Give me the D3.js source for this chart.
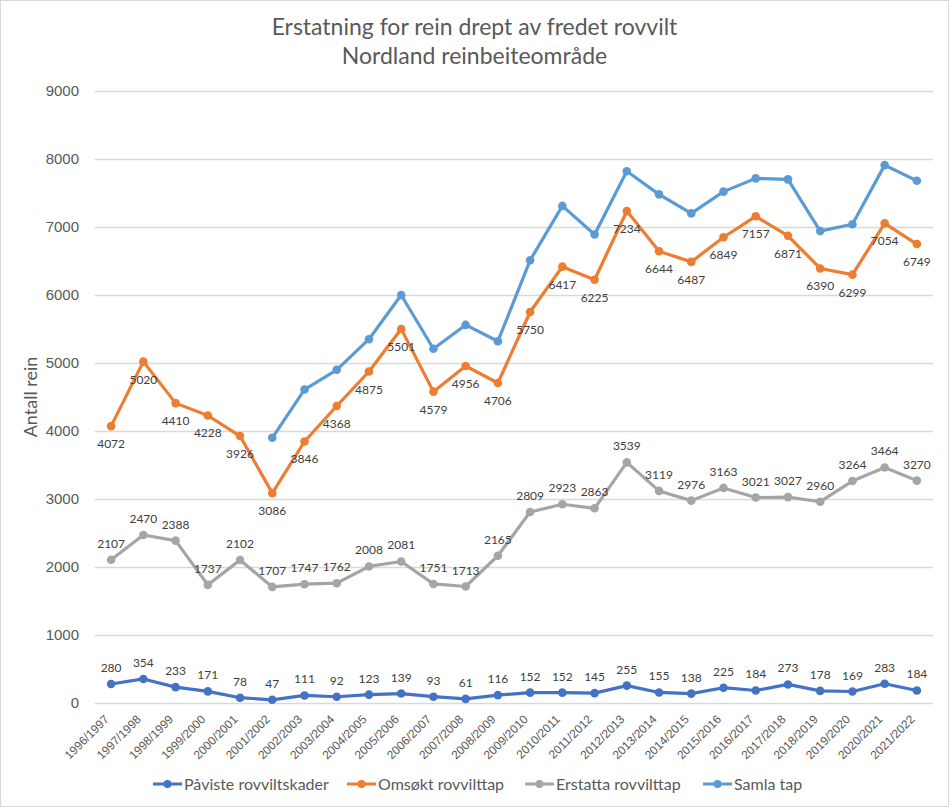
<!DOCTYPE html>
<html>
<head>
<meta charset="utf-8">
<script src="https://cdn.jsdelivr.net/npm/d3@7"></script>
<style>
	body { margin: 0; background: #fff; }
	svg { font-family: Lato, "Open Sans", sans-serif; }
	.title { font-size: 23px; fill: #595959; }
	.tick text { fill: #595959; }
	.lbl { font-size: 12px; fill: #404040; }
</style>
</head>
<body>
<svg id="chart" width="949" height="807" viewBox="0 0 949 807"></svg>
<script>
const seasons = [
	"1996/1997", "1997/1998", "1998/1999", "1999/2000", "2000/2001", "2001/2002",
	"2002/2003", "2003/2004", "2004/2005", "2005/2006", "2006/2007", "2007/2008",
	"2008/2009", "2009/2010", "2010/2011", "2011/2012", "2012/2013", "2013/2014",
	"2014/2015", "2015/2016", "2016/2017", "2017/2018", "2018/2019", "2019/2020",
	"2020/2021", "2021/2022"
];
const pavisteValues = [280, 354, 233, 171, 78, 47, 111, 92, 123, 139, 93, 61, 116, 152, 152, 145, 255, 155, 138, 225, 184, 273, 178, 169, 283, 184];
const omsoktValues = [4072, 5020, 4410, 4228, 3926, 3086, 3846, 4368, 4875, 5501, 4579, 4956, 4706, 5750, 6417, 6225, 7234, 6644, 6487, 6849, 7157, 6871, 6390, 6299, 7054, 6749];
const erstattaValues = [2107, 2470, 2388, 1737, 2102, 1707, 1747, 1762, 2008, 2081, 1751, 1713, 2165, 2809, 2923, 2863, 3539, 3119, 2976, 3163, 3021, 3027, 2960, 3264, 3464, 3270];
// no value before 2001/2002
const samlaValues = [null, null, null, null, null, 3900, 4610, 4900, 5350, 6000, 5210, 5560, 5320, 6510, 7310, 6890, 7820, 7480, 7200, 7520, 7715, 7700, 6940, 7040, 7910, 7680];
const yTicks = [0, 1000, 2000, 3000, 4000, 5000, 6000, 7000, 8000, 9000];

const series = [
	{ name: "Påviste rovviltskader", values: pavisteValues, color: "#4472C4", labels: "above" },
	{ name: "Omsøkt rovvilttap", values: omsoktValues, color: "#ED7D31", labels: "below" },
	{ name: "Erstatta rovvilttap", values: erstattaValues, color: "#A5A5A5", labels: "above" },
	{ name: "Samla tap", values: samlaValues, color: "#5B9BD5", labels: null }
];

const svg = d3.select("#chart");
const W = 949, H = 807;
const plot = { left: 95, right: 933, top: 91, bottom: 703 };

svg.append("rect")
	.attr("x", 0.5).attr("y", 0.5)
	.attr("width", W - 1).attr("height", H - 1)
	.attr("fill", "#fff").attr("stroke", "#D9D9D9");

// title
const title = svg.append("text").attr("class", "title").attr("text-anchor", "middle");
title.append("tspan").attr("x", W / 2).attr("y", 35).text("Erstatning for rein drept av fredet rovvilt");
title.append("tspan").attr("x", W / 2).attr("y", 64).text("Nordland reinbeiteområde");

const x = d3.scalePoint()
	.domain(seasons)
	.range([plot.left, plot.right])
	.padding(0.5);
const y = d3.scaleLinear()
	.domain([0, 9000])
	.range([plot.bottom, plot.top]);

// gridlines + y labels
const yAxis = svg.append("g")
	.attr("transform", `translate(${plot.left},0)`)
	.call(d3.axisLeft(y).tickValues(yTicks).tickSize(-(plot.right - plot.left)).tickPadding(16).tickFormat(d3.format("d")));
yAxis.select(".domain").remove();
yAxis.selectAll(".tick line").attr("stroke", "#D9D9D9").attr("stroke-width", 1.3);
yAxis.selectAll(".tick text").attr("font-size", 15);

svg.append("text")
	.attr("transform", `translate(37,${(plot.top + plot.bottom) / 2}) rotate(-90)`)
	.attr("text-anchor", "middle")
	.attr("font-size", 18)
	.attr("fill", "#595959")
	.text("Antall rein");

// x labels
const xAxis = svg.append("g")
	.attr("transform", `translate(0,${plot.bottom})`)
	.call(d3.axisBottom(x).tickSize(0).tickPadding(0));
xAxis.select(".domain").remove();
xAxis.selectAll(".tick text")
	.attr("font-size", 12)
	.attr("text-anchor", "end")
	.attr("y", 0)
	.attr("dy", 0)
	.attr("transform", "translate(-2,17) rotate(-45)");

// lines
const line = d3.line()
	.defined(d => d.v != null)
	.x(d => x(d.s))
	.y(d => y(d.v));

const seriesGroups = svg.append("g").selectAll("g")
	.data(series)
	.join("g");

seriesGroups.append("path")
	.attr("fill", "none")
	.attr("stroke", d => d.color)
	.attr("stroke-width", 3.2)
	.attr("stroke-linejoin", "round")
	.attr("d", d => line(d.values.map((v, i) => ({ s: seasons[i], v }))));

seriesGroups.selectAll("circle")
	.data(d => d.values.map((v, i) => ({ s: seasons[i], v, color: d.color })).filter(p => p.v != null))
	.join("circle")
	.attr("cx", d => x(d.s))
	.attr("cy", d => y(d.v))
	.attr("r", 4.3)
	.attr("fill", d => d.color);

// data labels
seriesGroups.filter(d => d.labels).selectAll("text.lbl")
	.data(d => d.values.map((v, i) => ({ s: seasons[i], v, pos: d.labels })))
	.join("text")
	.attr("class", "lbl")
	.attr("text-anchor", "middle")
	.attr("x", d => x(d.s))
	.attr("y", d => y(d.v) + (d.pos === "above" ? -12 : 22))
	.text(d => d.v);

// legend
const legendX = [153, 347, 525, 703];
const legend = svg.append("g").selectAll("g")
	.data(series)
	.join("g")
	.attr("transform", (d, i) => `translate(${legendX[i]},784)`);
legend.append("line")
	.attr("x1", 0).attr("x2", 29)
	.attr("stroke", d => d.color).attr("stroke-width", 3);
legend.append("circle")
	.attr("cx", 14.5).attr("r", 4)
	.attr("fill", d => d.color);
legend.append("text")
	.attr("x", 31).attr("dy", "0.35em")
	.attr("font-size", 16).attr("fill", "#595959")
	.text(d => d.name);
</script>
</body>
</html>
